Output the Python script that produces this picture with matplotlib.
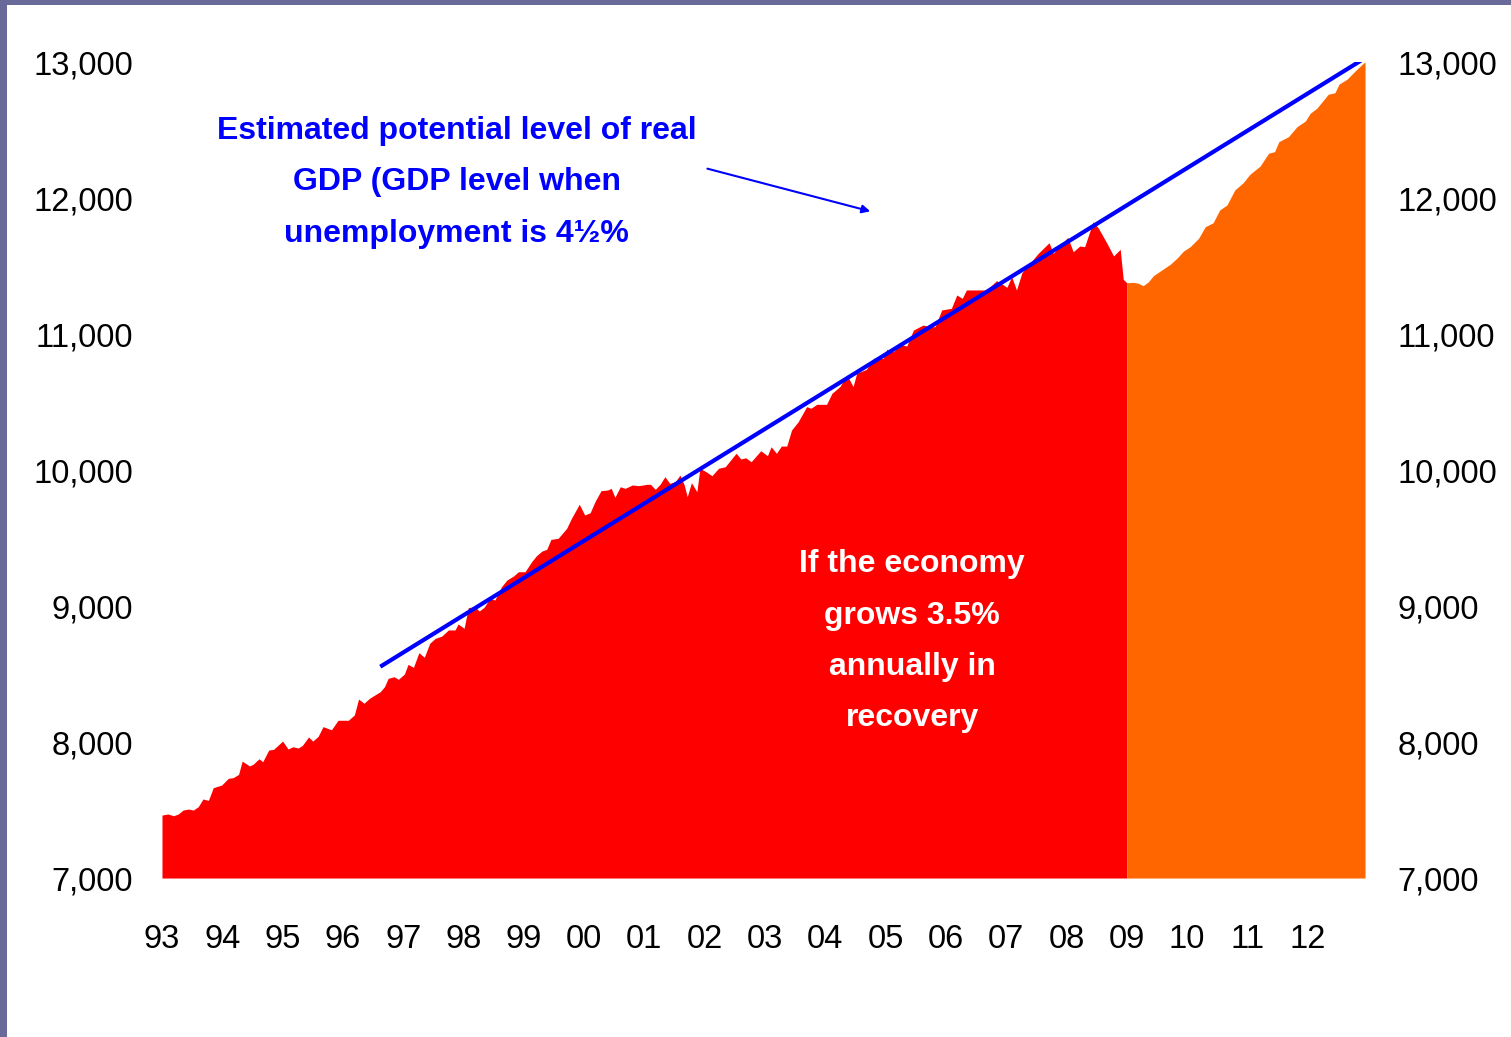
import matplotlib
matplotlib.use("Agg")
import matplotlib.pyplot as plt
from matplotlib.patches import Rectangle

red_t = [1993.00, 1993.10, 1993.19, 1993.27, 1993.35, 1993.44, 1993.52, 1993.60, 1993.68, 1993.77,
         1993.85, 1993.99, 1994.10, 1994.18, 1994.27, 1994.33, 1994.45, 1994.51, 1994.61, 1994.67,
         1994.77, 1994.85, 1995.00, 1995.09, 1995.17, 1995.26, 1995.33, 1995.43, 1995.50, 1995.59,
         1995.67, 1995.81, 1995.92, 1996.09, 1996.19, 1996.26, 1996.35, 1996.44, 1996.53, 1996.62,
         1996.69, 1996.75, 1996.85, 1996.92, 1997.02, 1997.08, 1997.17, 1997.26, 1997.35, 1997.44,
         1997.53, 1997.64, 1997.75, 1997.86, 1997.91, 1998.01, 1998.08, 1998.19, 1998.26, 1998.34,
         1998.44, 1998.52, 1998.63, 1998.72, 1998.83, 1998.91, 1999.02, 1999.13, 1999.21, 1999.30,
         1999.38, 1999.45, 1999.57, 1999.71, 1999.79, 1999.92, 2000.01, 2000.10, 2000.18, 2000.28,
         2000.39, 2000.45, 2000.51, 2000.60, 2000.68, 2000.80, 2000.90, 2000.98, 2001.04, 2001.10,
         2001.18, 2001.26, 2001.34, 2001.42, 2001.51, 2001.59, 2001.66, 2001.71, 2001.78, 2001.87,
         2001.92, 2002.02, 2002.12, 2002.23, 2002.34, 2002.42, 2002.52, 2002.60, 2002.68, 2002.77,
         2002.93, 2003.04, 2003.10, 2003.19, 2003.27, 2003.36, 2003.44, 2003.55, 2003.69, 2003.76,
         2003.86, 2004.02, 2004.11, 2004.24, 2004.36, 2004.46, 2004.52, 2004.68, 2004.80, 2004.96,
         2005.02, 2005.13, 2005.24, 2005.35, 2005.46, 2005.62, 2005.74, 2005.82, 2005.93, 2006.09,
         2006.18, 2006.27, 2006.34, 2006.67, 2006.84, 2006.93, 2007.01, 2007.09, 2007.17, 2007.26,
         2007.53, 2007.71, 2007.78, 2008.02, 2008.11, 2008.22, 2008.30, 2008.44, 2008.53, 2008.67,
         2008.78, 2008.89, 2008.94, 2009.00]
red_v = [7463, 7471, 7458, 7471, 7500, 7507, 7500, 7524, 7581, 7571,
         7664, 7684, 7733, 7738, 7762, 7860, 7824, 7836, 7877, 7855,
         7941, 7946, 8007, 7949, 7965, 7956, 7976, 8037, 8007, 8042,
         8113, 8090, 8160, 8160, 8199, 8316, 8285, 8321, 8346, 8370,
         8407, 8468, 8480, 8461, 8500, 8571, 8549, 8657, 8623, 8726,
         8762, 8779, 8824, 8824, 8868, 8836, 8988, 8995, 8963, 8990,
         9057, 9044, 9142, 9191, 9221, 9252, 9252, 9326, 9370, 9404,
         9417, 9490, 9498, 9571, 9645, 9748, 9669, 9686, 9767, 9848,
         9853, 9865, 9799, 9877, 9865, 9890, 9885, 9890, 9895, 9895,
         9858, 9895, 9951, 9902, 9914, 9963, 9890, 9804, 9907, 9840,
         10013, 9988, 9958, 10013, 10024, 10068, 10123, 10081, 10090, 10061,
         10142, 10105, 10171, 10123, 10176, 10176, 10294, 10355, 10466, 10454,
         10483, 10483, 10564, 10613, 10699, 10613, 10711, 10740, 10821, 10821,
         10888, 10870, 10924, 10912, 11029, 11066, 11054, 11054, 11177, 11189,
         11287, 11262, 11324, 11324, 11392, 11368, 11343, 11421, 11324, 11451,
         11593, 11671, 11593, 11711, 11605, 11647, 11642, 11826, 11777, 11667,
         11574, 11623, 11402, 11377]

# projected recovery path at 3.5% a year
orange_t = [2009.00, 2009.11, 2009.19, 2009.27, 2009.36, 2009.44, 2009.58, 2009.72, 2009.83, 2009.94,
            2010.05, 2010.19, 2010.30, 2010.43, 2010.54, 2010.66, 2010.79, 2010.93, 2011.04, 2011.21,
            2011.35, 2011.45, 2011.52, 2011.68, 2011.82, 2011.96, 2012.04, 2012.15, 2012.34, 2012.45,
            2012.52, 2012.65, 2012.79, 2012.92, 2012.95]
orange_v = [11377, 11380, 11373, 11355, 11385, 11429, 11471, 11513, 11557, 11610,
            11642, 11704, 11789, 11818, 11912, 11949, 12059, 12113, 12174, 12235,
            12329, 12341, 12414, 12451, 12524, 12566, 12623, 12660, 12763, 12774,
            12838, 12873, 12936, 12990, 13000]

# potential GDP line
potential_t = [1996.62, 2012.88]
potential_v = [8554, 13010]

years = list(range(1993, 2013))
year_labels = ["%02d" % (y % 100) for y in years]
y_ticks = [7000, 8000, 9000, 10000, 11000, 12000, 13000]

font = ["Liberation Sans", "DejaVu Sans"]

fig = plt.figure(figsize=(15.11, 10.37), dpi=100)
ax = fig.add_axes([0.1072, 0.1533, 0.7982, 0.7869])

ax.fill_between(red_t, red_v, 7000, color="#FF0000", lw=0)
ax.fill_between(orange_t, orange_v, 7000, color="#FF6600", lw=0)
ax.plot(potential_t, potential_v, color="#0000FF", lw=3, solid_capstyle="butt")

ax.annotate("", xy=(2004.79, 11897), xytext=(2002.0, 12221),
            arrowprops=dict(arrowstyle="-|>", color="#0000FF", lw=1.5, mutation_scale=12))

ax.text(1997.89, 12115, "Estimated potential level of real\nGDP (GDP level when\nunemployment is 4\u00bd%",
        ha="center", va="center", color="#0000FF", fontsize=23, fontweight="bold",
        family=font, linespacing=1.93)
ax.text(2005.44, 8740, "If the economy\ngrows 3.5%\nannually in\nrecovery",
        ha="center", va="center", color="white", fontsize=23, fontweight="bold",
        family=font, linespacing=1.93)

ax.set_xlim(1993, 2013)
ax.set_ylim(7000, 13000)
ax.set_xticks(years)
ax.set_xticklabels(year_labels, family=font, fontsize=23.5)
ax.set_yticks(y_ticks)
ax.set_yticklabels(["{:,}".format(v) for v in y_ticks], family=font, fontsize=23.5)
ax.tick_params(axis="x", length=0, pad=33)
ax.tick_params(axis="y", length=0, pad=21, labelright=True)
for s in ax.spines.values():
    s.set_visible(False)

# slide frame
fig.add_artist(Rectangle((0, 0.995), 1, 0.005, transform=fig.transFigure, color="#6A6A9A", lw=0))
fig.add_artist(Rectangle((0, 0), 0.0046, 1, transform=fig.transFigure, color="#6A6A9A", lw=0))

fig.savefig("out.png", dpi=100)
